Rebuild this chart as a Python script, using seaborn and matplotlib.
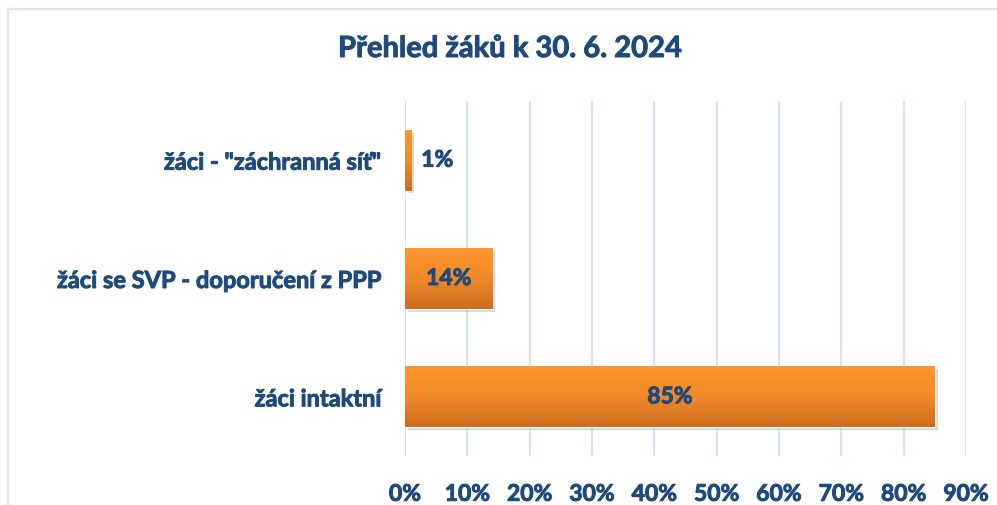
import numpy as np
import pandas as pd
import matplotlib
matplotlib.use('Agg')
import matplotlib.pyplot as plt
import matplotlib.patheffects as pe
from matplotlib.patches import Rectangle
from matplotlib.colors import LinearSegmentedColormap
import seaborn as sns

# data
kategorie = ['žáci - "záchranná síť"', 'žáci se SVP - doporučení z PPP', 'žáci intaktní']
podil = [1, 14, 85]
osa_ticks = [0, 10, 20, 30, 40, 50, 60, 70, 80, 90]

df = pd.DataFrame({'kategorie': kategorie, 'podil': podil})

modra = '#1f4a7c'
tucne = [pe.withStroke(linewidth=0.7, foreground=modra)]

sns.set_style('white')
plt.rcParams['font.family'] = ['Lato', 'DejaVu Sans']

fig = plt.figure(figsize=(9.97, 5.06), dpi=100)
ax = fig.add_axes([405 / 997, 1 - 457 / 506, 561 / 997, 355 / 506])

sns.barplot(data=df, x='podil', y='kategorie', orient='h', color='#f7931e',
            width=0.515, ax=ax, zorder=3)

# gradient + stin na sloupcich
cmap = LinearSegmentedColormap.from_list('oranz', ['#ff962e', '#f08a28', '#cd6b1f'])
grad = np.linspace(0, 1, 100).reshape(-1, 1)
for p in ax.patches:
    p.set_path_effects([pe.SimplePatchShadow(offset=(2, -2), shadow_rgbFace='#666666', alpha=0.25),
                        pe.Normal()])
    x0, y0 = p.get_x(), p.get_y()
    w, h = p.get_width(), p.get_height()
    im = ax.imshow(grad, cmap=cmap, aspect='auto', extent=(x0, x0 + w, y0 + h, y0),
                   zorder=4, interpolation='bicubic')
    im.set_clip_path(p)

ax.set_xlim(0, 90)
ax.set_ylim(2.5, -0.5)
ax.set_xticks(osa_ticks)
ax.set_xticklabels([f'{t}%' for t in osa_ticks])
ax.grid(axis='x', color='#d6e2f1', linewidth=1.6, zorder=0)
ax.grid(axis='y', visible=False)
ax.set_axisbelow(True)
sns.despine(ax=ax, left=True, bottom=True)
ax.set_xlabel('')
ax.set_ylabel('')
ax.tick_params(axis='x', length=0, pad=20, labelsize=16.5, labelcolor=modra)
ax.tick_params(axis='y', length=0, pad=17, labelsize=17, labelcolor=modra)
for lab in ax.get_xticklabels() + ax.get_yticklabels():
    lab.set_fontweight('bold')
    lab.set_path_effects(tucne)

# popisky hodnot
for i, v in enumerate(podil):
    if v < 5:
        ax.text(v + 1.6, i, f'{v}%', va='center', ha='left', fontsize=16.5,
                fontweight='bold', color=modra, zorder=6, path_effects=tucne)
    else:
        ax.text(v / 2, i, f'{v}%', va='center', ha='center', fontsize=16.5,
                fontweight='bold', color=modra, zorder=6, path_effects=tucne)

fig.text(510 / 997, 1 - 50 / 506, 'Přehled žáků k 30. 6. 2024', ha='center', va='center',
         fontsize=21, fontweight='bold', color=modra, path_effects=tucne)

# ramecek grafu
fig.patches.append(Rectangle((8 / 997, -0.05), 1.1, 1 - 10 / 506 + 0.05,
                             transform=fig.transFigure, fill=False,
                             edgecolor='#d9e4f4', linewidth=1.5))

fig.savefig('out.png', dpi=100)
